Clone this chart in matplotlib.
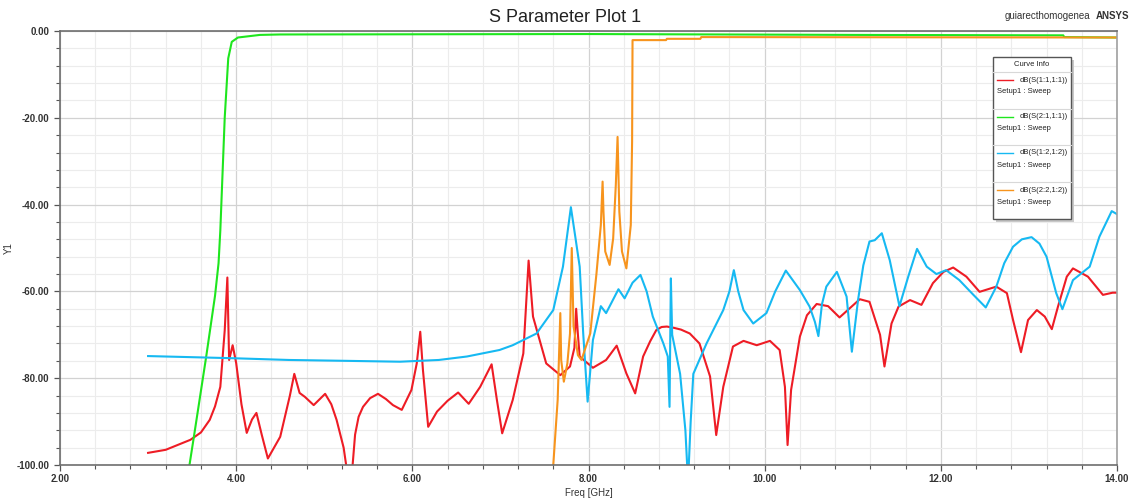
import matplotlib.pyplot as plt
from matplotlib.ticker import MultipleLocator, FormatStrFormatter

plt.rcParams['font.family'] = ['Liberation Sans', 'DejaVu Sans']

# dB(S(1:1,1:1))
s11_f = [3.00, 3.20, 3.48, 3.60, 3.70, 3.76, 3.82, 3.87, 3.90, 3.92, 3.96, 4.00, 4.06, 4.12,
         4.18, 4.23, 4.29, 4.36, 4.50, 4.61, 4.66, 4.72, 4.78, 4.88, 5.01, 5.08, 5.14, 5.22,
         5.27, 5.31, 5.35, 5.39, 5.44, 5.52, 5.61, 5.70, 5.78, 5.88, 5.99, 6.05, 6.09, 6.12,
         6.18, 6.28, 6.40, 6.52, 6.64, 6.77, 6.90, 6.96, 7.02, 7.14, 7.26, 7.32, 7.37, 7.52,
         7.68, 7.79, 7.84, 7.86, 7.88, 7.90, 8.05, 8.20, 8.32, 8.43, 8.53, 8.62, 8.70, 8.77,
         8.83, 8.89, 8.97, 9.05, 9.15, 9.26, 9.38, 9.45, 9.53, 9.64, 9.76, 9.91, 10.06, 10.17,
         10.23, 10.26, 10.30, 10.40, 10.48, 10.59, 10.72, 10.85, 11.08, 11.19, 11.31, 11.36,
         11.44, 11.52, 11.65, 11.78, 11.91, 12.03, 12.14, 12.29, 12.44, 12.63, 12.75, 12.82,
         12.91, 12.99, 13.09, 13.18, 13.26, 13.33, 13.43, 13.50, 13.67, 13.84, 13.95, 14.00]
s11_db = [-97.2, -96.5, -94.2, -92.5, -89.6, -86.5, -82.0, -69.0, -56.8, -75.8, -72.4, -76.5,
          -86.0, -92.6, -89.5, -88.0, -93.0, -98.5, -93.5, -84.0, -79.0, -83.4, -84.3, -86.2,
          -83.6, -86.0, -89.6, -96.0, -103.0, -103.0, -93.0, -88.9, -86.6, -84.6, -83.6, -84.8,
          -86.2, -87.3, -82.7, -76.6, -69.3, -78.0, -91.2, -87.7, -85.2, -83.3, -85.9, -82.0,
          -76.8, -85.0, -92.7, -85.0, -74.3, -52.9, -65.8, -76.6, -79.3, -77.3, -73.0, -64.0,
          -70.0, -75.0, -77.6, -75.8, -72.5, -78.9, -83.5, -75.0, -71.5, -68.9, -68.2, -68.1,
          -68.4, -68.8, -69.7, -72.0, -79.6, -93.1, -82.0, -72.7, -71.4, -72.4, -71.4, -73.5,
          -82.0, -95.4, -82.7, -70.4, -65.5, -62.9, -63.4, -66.0, -61.8, -62.4, -70.0, -77.3,
          -67.4, -63.5, -62.0, -63.1, -58.1, -55.5, -54.5, -56.6, -60.1, -58.9, -60.4, -66.6,
          -74.0, -66.6, -64.3, -65.8, -68.7, -63.5, -56.6, -54.7, -56.6, -60.8, -60.3, -60.3]

# dB(S(2:1,1:1))
s21_f = [3.47, 3.52, 3.66, 3.76, 3.80, 3.82, 3.87, 3.91, 3.95, 4.02, 4.27, 4.50, 8.00, 9.50,
         11.00, 13.39, 13.40, 14.00]
s21_db = [-100.0, -93.5, -75.0, -61.0, -53.5, -46.0, -20.0, -6.3, -2.5, -1.5, -0.9, -0.8, -0.7,
          -0.8, -0.9, -1.0, -1.4, -1.5]

# dB(S(1:2,1:2))
s12_f = [3.00, 3.97, 4.60, 5.25, 5.86, 6.30, 6.62, 6.99, 7.14, 7.41, 7.60, 7.71, 7.80, 7.85,
         7.90, 7.94, 7.99, 8.05, 8.14, 8.20, 8.34, 8.41, 8.50, 8.59, 8.66, 8.73, 8.85, 8.90,
         8.92, 8.935, 8.95, 9.04, 9.10, 9.13, 9.16, 9.19, 9.34, 9.53, 9.60, 9.65, 9.70, 9.76,
         9.87, 10.02, 10.12, 10.24, 10.40, 10.51, 10.57, 10.61, 10.65, 10.70, 10.82, 10.93,
         10.99, 11.06, 11.12, 11.19, 11.25, 11.33, 11.42, 11.53, 11.63, 11.73, 11.84, 11.95,
         12.06, 12.21, 12.37, 12.51, 12.63, 12.72, 12.82, 12.92, 13.03, 13.12, 13.20, 13.31,
         13.38, 13.50, 13.69, 13.80, 13.94, 14.00]
s12_db = [-74.9, -75.4, -75.8, -76.0, -76.2, -75.8, -75.0, -73.5, -72.4, -69.7, -64.3, -54.3,
          -40.6, -47.4, -54.3, -69.7, -85.4, -71.2, -63.4, -65.0, -59.5, -61.6, -58.0, -56.2,
          -60.0, -65.8, -72.0, -75.0, -86.6, -57.0, -70.0, -79.0, -92.0, -104.0, -90.0, -79.0,
          -72.0, -64.3, -60.0, -55.1, -60.0, -64.3, -67.4, -65.0, -60.0, -55.2, -59.7, -63.5,
          -67.0, -70.3, -63.0, -58.9, -55.5, -61.2, -73.9, -62.0, -54.0, -48.5, -48.2, -46.6,
          -52.8, -63.4, -56.6, -50.2, -54.3, -56.0, -55.1, -57.4, -60.8, -63.7, -58.9, -53.5,
          -49.7, -48.0, -47.5, -49.0, -52.0, -60.4, -64.1, -57.4, -54.3, -47.4, -41.5, -42.2]

# dB(S(2:2,1:2))
s22_f = [7.60, 7.65, 7.68, 7.69, 7.72, 7.76, 7.79, 7.81, 7.83, 7.88, 7.92, 8.02, 8.09, 8.14,
         8.16, 8.17, 8.19, 8.24, 8.28, 8.31, 8.33, 8.35, 8.38, 8.43, 8.48, 8.495, 8.50, 8.88,
         8.89, 9.27, 9.28, 14.00]
s22_db = [-100.0, -85.0, -65.0, -75.8, -80.8, -76.6, -69.7, -50.0, -68.0, -74.7, -75.8, -69.7,
          -56.0, -44.7, -34.7, -41.6, -50.8, -53.9, -47.8, -35.5, -24.4, -41.6, -50.8, -54.7,
          -44.7, -25.5, -2.1, -2.1, -1.8, -1.8, -1.4, -1.5]

curve_names = ['dB(S(1:1,1:1))', 'dB(S(2:1,1:1))', 'dB(S(1:2,1:2))', 'dB(S(2:2,1:2))']
curve_colors = ['#ee1c25', '#1ee61e', '#16b9f2', '#f7941d']

fig = plt.figure(figsize=(11.31, 5.0), dpi=100)
ax = fig.add_axes([60 / 1131, 35 / 500, 1057 / 1131, 434 / 500])

series = [(s11_f, s11_db), (s21_f, s21_db), (s12_f, s12_db), (s22_f, s22_db)]
for (f, db), name, col in zip(series, curve_names, curve_colors):
    ax.plot(f, db, color=col, lw=1.5, label=name, solid_joinstyle='round')

ax.set_xlim(2, 14)
ax.set_ylim(-100, 0)
ax.xaxis.set_major_locator(MultipleLocator(2))
ax.xaxis.set_minor_locator(MultipleLocator(0.4))
ax.yaxis.set_major_locator(MultipleLocator(20))
ax.yaxis.set_minor_locator(MultipleLocator(4))
ax.xaxis.set_major_formatter(FormatStrFormatter('%.2f'))
ax.yaxis.set_major_formatter(FormatStrFormatter('%.2f'))

ax.grid(which='minor', color='#ececec', lw=0.8)
ax.grid(which='major', color='#d2d2d2', lw=0.9)
ax.set_axisbelow(True)

ax.tick_params(which='both', direction='out', colors='#555555', labelcolor='#333333',
               labelsize=7)
ax.tick_params(which='major', length=4, width=0.9)
ax.tick_params(which='minor', length=3, width=0.8)
ax.tick_params(axis='x', which='major', pad=2.5)
for lab in ax.get_xticklabels() + ax.get_yticklabels():
    lab.set_fontweight('bold')

for side in ['left', 'bottom', 'top']:
    ax.spines[side].set_color('#6e6e6e')
    ax.spines[side].set_linewidth(1.2)
ax.spines['right'].set_color('#a0a0a0')
ax.spines['right'].set_linewidth(1.2)

ax.set_xlabel('Freq [GHz]', fontsize=7, color='#333333')
ax.set_ylabel('Y1', fontsize=7, color='#333333')
ax.xaxis.set_label_coords(0.5, -23 / 434)
ax.yaxis.set_label_coords(-46 / 1057, 0.5)

fig.text(0.5, 0.966, 'S Parameter Plot 1', ha='center', va='center', fontsize=13,
         color='#222222')
fig.text(1047 / 1131, 0.968, 'guiarecthomogenea', ha='center', va='center', fontsize=7,
         color='#333333')
fig.text(1112 / 1131, 0.968, 'ANSYS', ha='center', va='center', fontsize=7,
         fontweight='bold', color='#333333')

# curve info box
bx0, bx1, by0, by1 = 993, 1071, 57, 219
shadow = plt.Rectangle((bx0 + 3, 500 - by1 - 3), bx1 - bx0, by1 - by0, transform=None,
                       facecolor='#c8c8c8', edgecolor='none', zorder=5)
box = plt.Rectangle((bx0, 500 - by1), bx1 - bx0, by1 - by0, transform=None,
                    facecolor='white', edgecolor='#555555', lw=1.0, zorder=6)
fig.patches.extend([shadow, box])


def fx(px):
    return px / 1131


def fy(py):
    return 1 - py / 500


fig.text(fx((bx0 + bx1) / 2), fy(65), 'Curve Info', ha='center', va='center', fontsize=5.5,
         color='#222222', zorder=7)
row_top = [72, 108.5, 145, 182]
for i, (name, col) in enumerate(zip(curve_names, curve_colors)):
    top = row_top[i]
    fig.add_artist(plt.Line2D([fx(bx0), fx(bx1)], [fy(top), fy(top)], color='#d8d8d8',
                              lw=0.8, zorder=7))
    fig.add_artist(plt.Line2D([fx(997), fx(1013)], [fy(top + 8), fy(top + 8)], color=col,
                              lw=1.0, zorder=7))
    fig.text(fx(1068), fy(top + 8), name, ha='right', va='center', fontsize=5.5,
             color='#222222', zorder=7)
    fig.text(fx(997), fy(top + 20), 'Setup1 : Sweep', ha='left', va='center', fontsize=5.5,
             color='#222222', zorder=7)

fig.savefig('out.png', dpi=100)
